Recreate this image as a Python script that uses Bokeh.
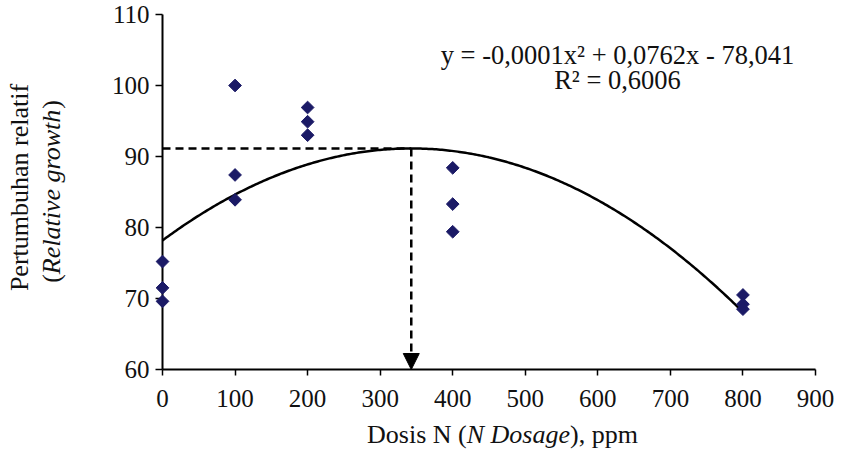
import numpy as np
from bokeh.plotting import figure
from bokeh.models import Label, Arrow, NormalHead, Range1d, FixedTicker
from bokeh.embed import file_html
from bokeh.resources import INLINE

# ---- data ----
dose_0 = [0, 0, 0]
growth_0 = [75.2, 71.5, 69.6]
dose_100 = [100, 100, 100]
growth_100 = [100.0, 87.4, 83.9]
dose_200 = [200, 200, 200]
growth_200 = [96.9, 94.9, 93.0]
dose_400 = [400, 400, 400]
growth_400 = [88.4, 83.3, 79.4]
dose_800 = [800, 800, 800]
growth_800 = [70.5, 69.2, 68.5]

x_ticks = [0, 100, 200, 300, 400, 500, 600, 700, 800, 900]
y_ticks = [60, 70, 80, 90, 100, 110]

equation_text = "y = -0,0001x\u00b2 + 0,0762x - 78,041"
r2_text = "R\u00b2 = 0,6006"

x_all = np.array(dose_0 + dose_100 + dose_200 + dose_400 + dose_800, dtype=float)
y_all = np.array(growth_0 + growth_100 + growth_200 + growth_400 + growth_800, dtype=float)

# quadratic trendline (as in the original spreadsheet chart)
coef = np.polyfit(x_all, y_all, 2)
x_fit = np.linspace(x_all.min(), x_all.max(), 300)
y_fit = np.polyval(coef, x_fit)
x_peak = -coef[1] / (2 * coef[0])
y_peak = np.polyval(coef, x_peak)

# ---- layout ----
W, H = 834, 454
XMIN, XMAX, YMIN, YMAX = 0, 900, 60, 110
# page-pixel positions of the axis extents
PX0, PX1 = 170, 823      # x = 0 / x = 900
PY0, PY1 = 377, 22       # y = 60 / y = 110
FONT = "Liberation Serif"

def dx(px):
    return XMIN + (px - PX0) / (PX1 - PX0) * (XMAX - XMIN)
def dy(py):
    return YMIN + (PY0 - py) / (PY0 - PY1) * (YMAX - YMIN)

# frame covers the whole canvas; axes are pinned at fixed locations
p = figure(width=W, height=H, output_backend="svg", toolbar_location=None,
           x_range=Range1d(dx(8), dx(8 + W)), y_range=Range1d(dy(8 + H), dy(8)),
           min_border=0, title=None)
p.outline_line_color = None
p.grid.visible = False
p.background_fill_color = "white"
p.border_fill_color = "white"

for ax, ticks in ((p.xaxis, x_ticks), (p.yaxis, y_ticks)):
    ax.ticker = FixedTicker(ticks=ticks)
    ax.axis_line_color = "black"
    ax.axis_line_width = 2
    ax.major_tick_line_color = "black"
    ax.major_tick_line_width = 1.5
    ax.major_tick_in = 0
    ax.minor_tick_line_color = None
    ax.major_label_text_font = FONT
    ax.major_label_text_font_size = "25px"
    ax.major_label_text_color = "#111111"
p.xaxis.fixed_location = YMIN
p.xaxis.bounds = (XMIN, XMAX)
p.yaxis.fixed_location = XMIN
p.yaxis.bounds = (YMIN, YMAX)
p.xaxis.major_tick_out = 6
p.xaxis.major_label_standoff = 14
p.yaxis.major_tick_out = 7
p.yaxis.major_label_standoff = 6

# dashed guide lines + arrow
p.line([XMIN, x_peak], [y_peak, y_peak], line_color="black", line_width=2.5, line_dash="8 5")
p.add_layout(Arrow(end=NormalHead(size=16, fill_color="black", line_color="black"),
                   x_start=x_peak, y_start=y_peak, x_end=x_peak, y_end=YMIN,
                   line_color="black", line_width=2.5, line_dash="8 5"))

# trendline
p.line(x_fit, y_fit, line_color="black", line_width=2.5)

# points (diamonds, drawn above the axis line)
p.scatter(x_all, y_all, marker="square", angle=np.pi / 4, size=9,
          fill_color="#1b1a66", line_color="#1b1a66", level="overlay")

def label(px, py, text, **kw):
    base = dict(x=dx(px), y=dy(py), text=text,
                text_font=FONT, text_font_size="26px", text_color="#111111")
    base.update(kw)
    p.add_layout(Label(**base))

# equation
label(625, 62, equation_text, text_align="center", text_baseline="alphabetic",
      text_font_size="26.5px")
label(625, 87, r2_text, text_align="center", text_baseline="alphabetic",
      text_font_size="26.5px")

# approximate Times widths (per 1000 em) for placing mixed-style pieces
REG = {' ': 250, '(': 333, ')': 333, ',': 250, 'D': 722, 'o': 500, 's': 389,
       'i': 278, 'N': 722, 'p': 500, 'm': 778}
ITA = {' ': 250, 'N': 667, 'D': 722, 'o': 500, 's': 389, 'a': 500, 'g': 500,
       'e': 444, 'R': 611, 'l': 278, 't': 278, 'i': 278, 'v': 444, 'r': 389,
       'w': 667, 'h': 500}
def width(txt, italic, fs):
    tab = ITA if italic else REG
    return sum(tab.get(c, 500) for c in txt) / 1000 * fs

TFS = 26
# x-axis title
x_pieces = [("Dosis N (", False), ("N Dosage", True), ("), ppm", False)]
total = sum(width(t, i, TFS) for t, i in x_pieces)
cx = 510 - total / 2
for t, i in x_pieces:
    label(cx, 442, t, text_align="left", text_baseline="middle",
          text_font_style="italic" if i else "normal")
    cx += width(t, i, TFS)

# y-axis title (two rotated lines)
label(27, 195, "Pertumbuhan relatif", angle=np.pi / 2,
      text_align="center", text_baseline="middle")
y_pieces = [("(", False), ("Relative growth", True), (")", False)]
total = sum(width(t, i, TFS) for t, i in y_pieces)
cy = 199 + total / 2
for t, i in y_pieces:
    label(59, cy, t, angle=np.pi / 2, text_align="left", text_baseline="middle",
          text_font_style="italic" if i else "normal")
    cy -= width(t, i, TFS)

open("out.html", "w").write(file_html(p, INLINE))
